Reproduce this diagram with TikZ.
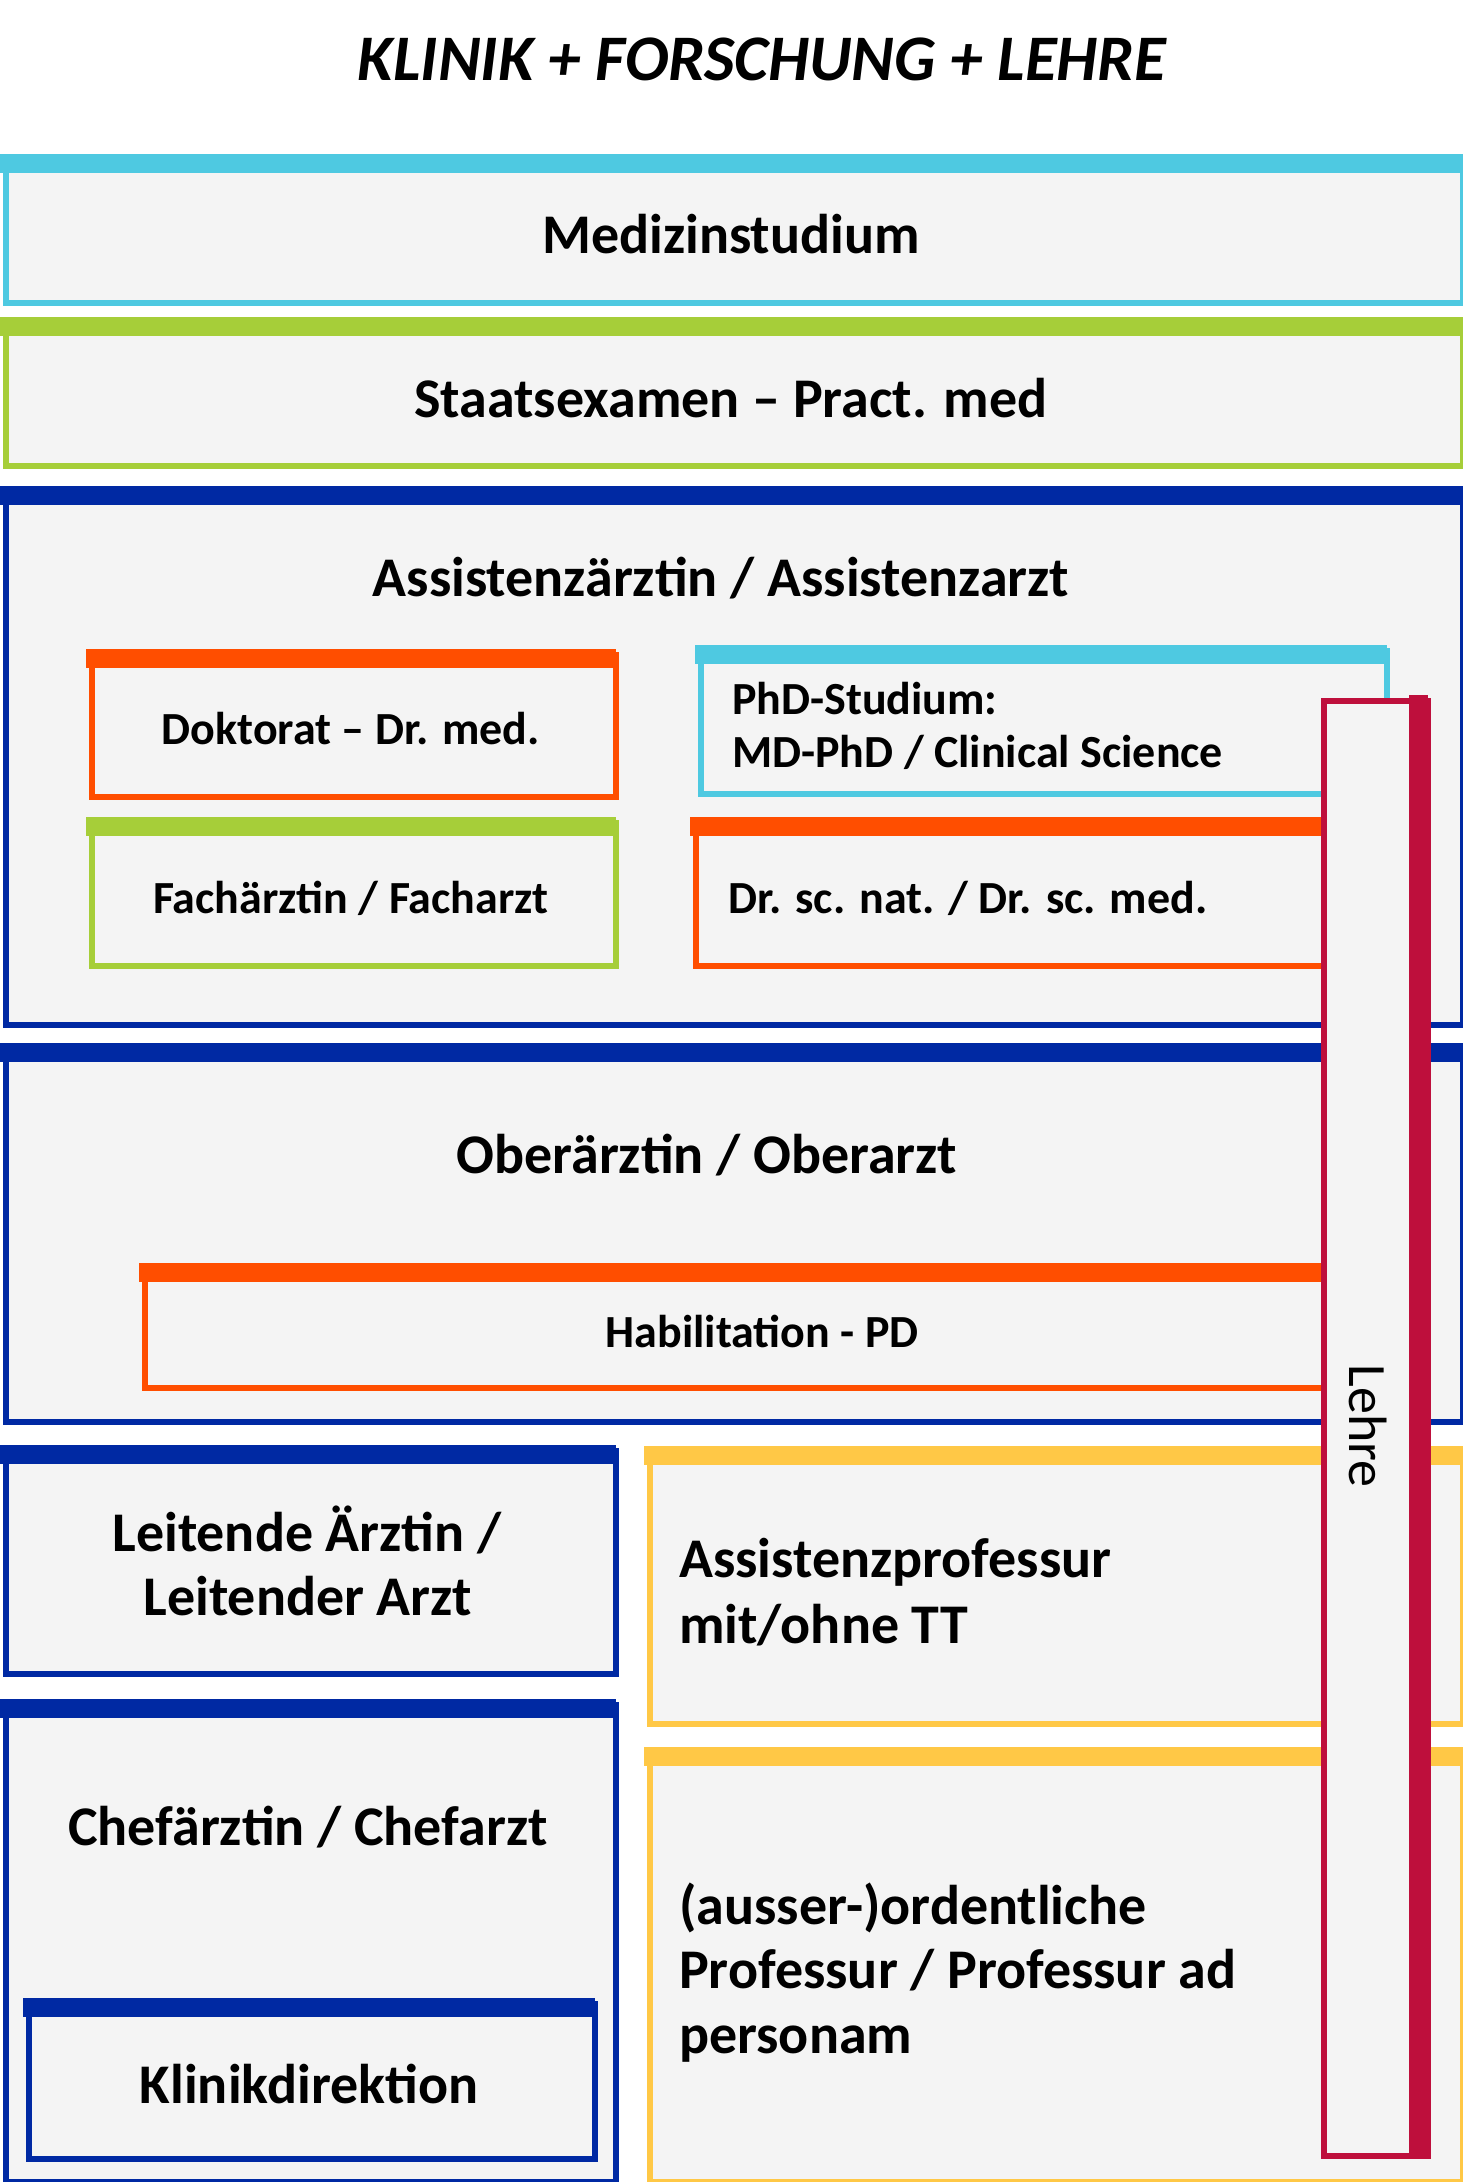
\documentclass[tikz,border=0pt]{standalone}
\usepackage{fontspec}
\setmainfont{Carlito}
\definecolor{cy}{HTML}{4EC9E1}
\definecolor{gr}{HTML}{A6CE39}
\definecolor{bl}{HTML}{0029A3}
\definecolor{orn}{HTML}{FF4E00}
\definecolor{yel}{HTML}{FFC846}
\definecolor{crim}{HTML}{BE0F3C}
\definecolor{boxfill}{HTML}{F4F4F4}
% #1 name, #2 colour, #3 x1, #4 y1, #5 x2, #6 y2
\newcommand\pbox[6]{%
  \node[draw=#2, fill=boxfill, line width=6pt, inner sep=0pt,
        minimum width={(#5-#3-6)*1pt}, minimum height={(#6-#4-6)*1pt},
        anchor=north west] (#1) at ({#3+3},{#4+3}) {};
  \fill[#2] (#3,#4) rectangle (#5,{#4+19});
}
\tikzset{
  big/.style={font=\bfseries\fontsize{56}{66}\selectfont, inner sep=0pt},
  sml/.style={font=\bfseries\fontsize{46}{56}\selectfont, inner sep=0pt},
}
\begin{document}
\begin{tikzpicture}[x=1pt,y=-1pt]
\useasboundingbox (0,0) rectangle (1463,2182);
\fill[white] (0,0) rectangle (1463,2182);

\node[font=\bfseries\itshape\fontsize{65}{76}\selectfont, inner sep=0pt, anchor=base] (title) at (762,80) {KLINIK + FORSCHUNG + LEHRE};

\pbox{med}{cy}{0}{154}{1463}{303}
\node[big, anchor=base] (tmed) at (731,253) {Medizinstudium};

\pbox{stx}{gr}{0}{317}{1463}{466}
\node[big, anchor=base] (tstx) at (731,417) {Staatsexamen – Pract. med};

\pbox{ass}{bl}{0}{486}{1463}{1025}
\node[big, anchor=base] (tass) at (721,596) {Assistenzärztin / Assistenzarzt};

\pbox{dok}{orn}{86}{649}{616}{797}
\node[sml, anchor=base] (tdok) at (351,744) {Doktorat – Dr. med.};

\pbox{phd}{cy}{695}{645}{1387}{794}
\node[sml, anchor=base west] (tphd1) at (732,714) {PhD-Studium:};
\node[sml, anchor=base west] (tphd2) at (732,767) {MD-PhD / Clinical Science};

\pbox{fach}{gr}{86}{817}{616}{966}
\node[sml, anchor=base] (tfach) at (351,913) {Fachärztin / Facharzt};

\pbox{drsc}{orn}{690}{817}{1387}{966}
\node[sml, anchor=base west] (tdrsc) at (728,913) {Dr. sc. nat. / Dr. sc. med.};

\pbox{ober}{bl}{0}{1043}{1463}{1422}
\node[big, anchor=base] (tober) at (707,1173) {Oberärztin / Oberarzt};

\pbox{habil}{orn}{139}{1263}{1387}{1388}
\node[sml, anchor=base] (thabil) at (762,1347) {Habilitation - PD};

\pbox{leit}{bl}{0}{1445}{616}{1674}
\node[big, anchor=base] (tleit1) at (307,1551) {Leitende Ärztin /};
\node[big, anchor=base] (tleit2) at (308,1615) {Leitender Arzt};

\pbox{aprof}{yel}{644}{1446}{1463}{1724}
\node[big, anchor=base west] (taprof1) at (679,1577) {Assistenzprofessur};
\node[big, anchor=base west] (taprof2) at (679,1643) {mit/ohne TT};

\pbox{chef}{bl}{0}{1699}{616}{2182}
\node[big, anchor=base] (tchef) at (308,1845) {Chefärztin / Chefarzt};

\pbox{klin}{bl}{23}{1998}{595}{2159}
\node[big, anchor=base] (tklin) at (309,2103) {Klinikdirektion};

\pbox{prof}{yel}{644}{1747}{1463}{2182}
\node[big, anchor=base west] (tprof1) at (679,1924) {(ausser-)ordentliche};
\node[big, anchor=base west] (tprof2) at (679,1988) {Professur / Professur ad};
\node[big, anchor=base west] (tprof3) at (679,2053) {personam};

% Lehre bar
\node[draw=crim, fill=boxfill, line width=6pt, inner sep=0pt,
      minimum width=104pt, minimum height=1455pt, anchor=north west] (lehre) at (1321,698) {};
\fill[crim] (1409,695) rectangle (1428,2156);
\node[font=\fontsize{54}{62}\selectfont, inner sep=0pt, rotate=-90, anchor=base] (tlehre) at (1349,1426) {Lehre};
\end{tikzpicture}
\end{document}
